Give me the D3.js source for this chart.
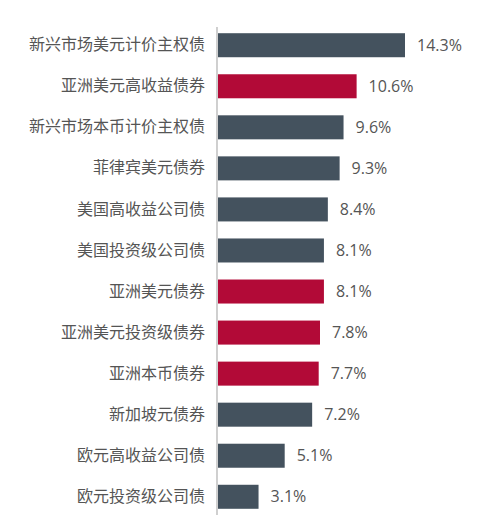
<!DOCTYPE html>
<html>
<head>
<meta charset="utf-8">
<script src="https://cdn.jsdelivr.net/npm/d3@7"></script>
<style>
  body { margin: 0; background: #fff; }
</style>
</head>
<body>
<script>
// chart data
const categories = ["新兴市场美元计价主权债", "亚洲美元高收益债券", "新兴市场本币计价主权债", "菲律宾美元债券",
  "美国高收益公司债", "美国投资级公司债", "亚洲美元债券", "亚洲美元投资级债券", "亚洲本币债券",
  "新加坡元债券", "欧元高收益公司债", "欧元投资级公司债"];
const values = [14.3, 10.6, 9.6, 9.3, 8.4, 8.1, 8.1, 7.8, 7.7, 7.2, 5.1, 3.1];
const isAsia = [false, true, false, false, false, false, true, true, true, false, false, false];

const width = 502, height = 531;
const axisX = 218;

const svg = d3.select("body").append("svg")
  .attr("width", width)
  .attr("height", height);

const x = d3.scaleLinear().domain([0, 14.3]).range([axisX, 405]);
const y = d3.scaleBand().domain(categories).range([25, 517]).paddingInner(0.415).paddingOuter(0.2);

const rows = categories.map((c, i) => ({ name: c, value: values[i], asia: isAsia[i] }));

// bars
svg.selectAll("rect.bar")
  .data(rows)
  .enter().append("rect")
  .attr("class", "bar")
  .attr("x", x(0))
  .attr("y", d => y(d.name))
  .attr("width", d => x(d.value) - x(0))
  .attr("height", y.bandwidth())
  .attr("fill", d => d.asia ? "#b20a37" : "#44525e");

// value labels
svg.selectAll("text.val")
  .data(rows)
  .enter().append("text")
  .attr("class", "val")
  .attr("x", d => x(d.value) + 12)
  .attr("y", d => y(d.name) + y.bandwidth() / 2)
  .attr("dy", "0.35em")
  .style("font-family", "'Open Sans', 'Noto Sans', sans-serif")
  .style("font-size", "16px")
  .attr("fill", "#555")
  .text(d => d.value.toFixed(1) + "%");

// category axis
const yAxis = svg.append("g")
  .attr("transform", `translate(${axisX - 1}, 0)`)
  .call(d3.axisLeft(y).tickSize(0).tickPadding(12));

yAxis.select(".domain")
  .attr("d", "M0,27V515")
  .attr("stroke", "#b0b0b0")
  .attr("stroke-width", 1.2);

yAxis.selectAll("text")
  .style("font-family", "'Noto Sans CJK SC', sans-serif")
  .style("font-size", "16px")
  .attr("fill", "#555");
</script>
</body>
</html>
